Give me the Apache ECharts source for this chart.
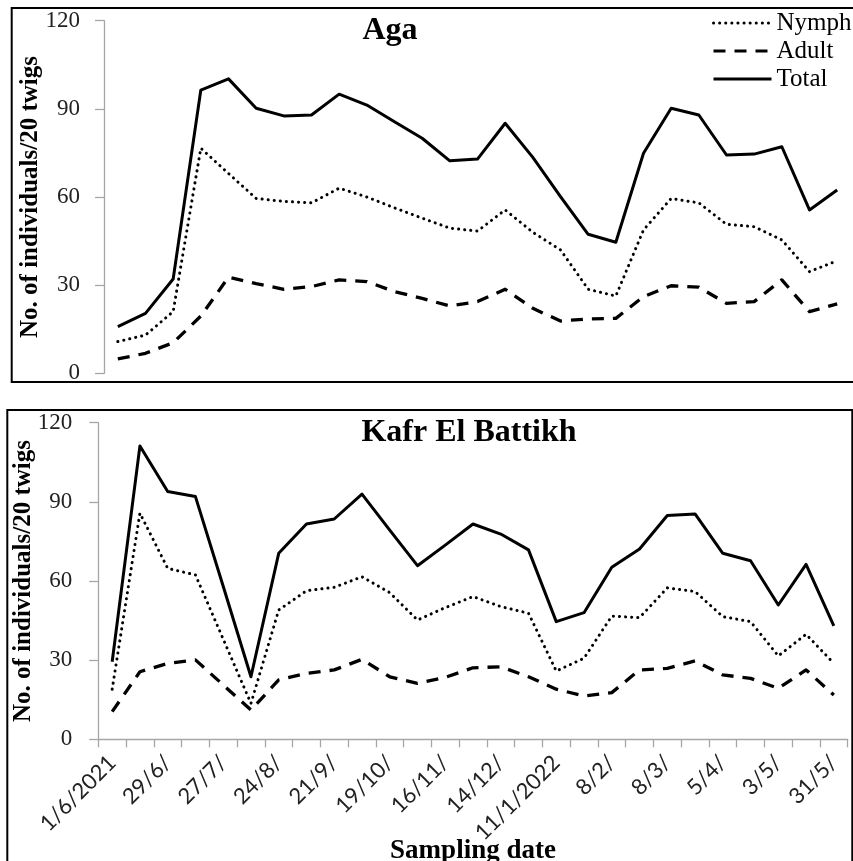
<!DOCTYPE html>
<html>
<head>
<meta charset="utf-8">
<script src="https://cdn.jsdelivr.net/npm/echarts@6/dist/echarts.min.js"></script>
<style>
html,body{margin:0;padding:0;background:#fff;}
#chart{width:853px;height:861px;}
</style>
</head>
<body>
<div id="chart"></div>
<script>
// Sampling dates (every 2 weeks); only every 2nd label is displayed
const dates = ['1/6/2021','15/6/','29/6/','13/7/','27/7/','10/8/','24/8/','7/9/','21/9/','5/10/','19/10/','2/11/','16/11/','30/11/','14/12/','28/12/','11/1/2022','25/1/','8/2/','22/2/','8/3/','22/3/','5/4/','19/4/','3/5/','17/5/','31/5/'];

// Aga
const agaNymph = [10.8, 13, 21, 76.6, 68, 59.5, 58.5, 58, 63, 60, 56.3, 52.8, 49.4, 48.4, 55.6, 48, 42, 28.6, 26.3, 48.8, 59.5, 58, 50.7, 49.9, 45.4, 34.6, 38.3];
const agaAdult = [4.9, 6.8, 10.4, 19.5, 32.7, 30.5, 28.6, 29.5, 31.8, 31.2, 27.8, 25.5, 22.9, 24.4, 28.6, 22.1, 17.8, 18.5, 18.7, 26.1, 29.8, 29.3, 23.8, 24.4, 31.8, 21, 23.6];
const agaTotal = [15.9, 20.4, 32.1, 96.4, 100.2, 90.2, 87.6, 87.9, 95, 91.3, 85.6, 80, 72.3, 72.9, 85.1, 73.5, 60.1, 47.3, 44.6, 74.9, 90.2, 87.9, 74.3, 74.6, 77.1, 55.6, 62.4];

// Kafr El Battikh
const kafrNymph = [19, 85.7, 64.8, 62.3, 38, 13.6, 49, 56.3, 57.6, 61.6, 55.6, 45.2, 49.9, 54.1, 50.3, 47.8, 25.9, 30.7, 46.7, 46.1, 57.4, 56, 46.5, 44.6, 31.6, 39.8, 28.8];
const kafrAdult = [10.5, 25.6, 28.8, 30.1, 20.6, 11.1, 22.5, 25, 26.3, 30.3, 23.7, 21.2, 23.5, 27.1, 27.5, 23.7, 19, 16.4, 17.7, 26.3, 26.9, 29.7, 24.4, 23.1, 19.3, 26.3, 16.8];
const kafrTotal = [29.4, 111.2, 93.9, 92, 58, 23.7, 70.5, 81.6, 83.5, 92.9, 79.3, 65.8, 73.6, 81.6, 77.8, 71.8, 44.6, 48, 65.2, 72.1, 84.8, 85.4, 70.5, 67.7, 50.9, 66.3, 43];

const yTicks = {min: 0, max: 120, interval: 30};

const serif = '"Liberation Serif", "Times New Roman", serif';
const sans = 'Lato, "Open Sans", sans-serif';
const grey = '#a6a6a6';

const styles = {
  Nymph: {color: '#000', width: 3, type: [0.1, 6], cap: 'round'},
  Adult: {color: '#000', width: 3.3, type: [12, 9], cap: 'butt'},
  Total: {color: '#000', width: 3, type: 'solid', cap: 'butt'}
};

function mkSeries(name, data, idx) {
  const s = styles[name];
  return {
    name: name, type: 'line', data: data,
    xAxisIndex: idx, yAxisIndex: idx,
    symbol: 'none', smooth: false, animation: false,
    color: '#000',
    lineStyle: {color: s.color, width: s.width, type: s.type, cap: s.cap, join: 'round'}
  };
}

function mkYAxis(idx, labelMargin, nameGap) {
  return {
    type: 'value', gridIndex: idx,
    min: yTicks.min, max: yTicks.max, interval: yTicks.interval,
    name: 'No. of individuals/20 twigs', nameLocation: 'middle', nameGap: nameGap,
    nameMoveOverlap: false,
    nameTextStyle: {fontFamily: serif, fontWeight: 'bold', fontSize: 25, color: '#000'},
    axisLine: {show: true, lineStyle: {color: grey, width: 1.3}},
    axisTick: {show: true, length: 9, inside: false, lineStyle: {color: grey, width: 1.3}},
    axisLabel: {fontFamily: serif, fontSize: 23, color: '#222', margin: labelMargin},
    splitLine: {show: false}
  };
}

const chart = echarts.init(document.getElementById('chart'), null, {renderer: 'canvas'});
chart.setOption({
  backgroundColor: '#fff',
  animation: false,
  title: [
    {text: 'Aga', left: 385, top: 10, textAlign: 'center',
     textStyle: {fontFamily: serif, fontWeight: 'bold', fontSize: 32, color: '#000'}},
    {text: 'Kafr El Battikh', left: 464, top: 412, textAlign: 'center',
     textStyle: {fontFamily: serif, fontWeight: 'bold', fontSize: 32, color: '#000'}}
  ],
  legend: {
    data: ['Nymph', 'Adult', 'Total'],
    orient: 'vertical', left: 712, top: 9, padding: 0,
    itemWidth: 58, itemHeight: 14, itemGap: 0,
    selectedMode: false,
    itemStyle: {color: 'rgba(0,0,0,0)', borderWidth: 0, opacity: 0},
    lineStyle: {width: 3},
    textStyle: {fontFamily: serif, fontSize: 25, color: '#000', lineHeight: 28}
  },
  grid: [
    {left: 104, top: 20.7, width: 747, height: 352.6, containLabel: false, outerBoundsMode: 'none'},
    {left: 98.3, top: 422.7, width: 749.4, height: 316.6, containLabel: false, outerBoundsMode: 'none'}
  ],
  xAxis: [
    {type: 'category', gridIndex: 0, data: dates, boundaryGap: true, show: false},
    {type: 'category', gridIndex: 1, data: dates, boundaryGap: true,
     name: 'Sampling date', nameLocation: 'middle', nameGap: 98, nameMoveOverlap: false,
     nameTextStyle: {fontFamily: serif, fontWeight: 'bold', fontSize: 27, color: '#000'},
     axisLine: {show: true, lineStyle: {color: grey, width: 1.3}},
     axisTick: {show: true, length: 8, interval: 0, lineStyle: {color: grey, width: 1.3}},
     axisLabel: {interval: 1, rotate: 45, fontFamily: sans, fontSize: 22, color: '#222', margin: 20}
    }
  ],
  yAxis: [mkYAxis(0, 24, 61), mkYAxis(1, 26, 62)],
  series: [
    mkSeries('Nymph', agaNymph, 0),
    mkSeries('Adult', agaAdult, 0),
    mkSeries('Total', agaTotal, 0),
    mkSeries('Nymph', kafrNymph, 1),
    mkSeries('Adult', kafrAdult, 1),
    mkSeries('Total', kafrTotal, 1)
  ],
  graphic: [
    {type: 'rect', shape: {x: 11.7, y: 8, width: 860, height: 374},
     style: {fill: 'none', stroke: '#000', lineWidth: 2}, silent: true, z: 100},
    {type: 'rect', shape: {x: 7.3, y: 410, width: 845, height: 480},
     style: {fill: 'none', stroke: '#000', lineWidth: 2}, silent: true, z: 100}
  ]
});
</script>
</body>
</html>
